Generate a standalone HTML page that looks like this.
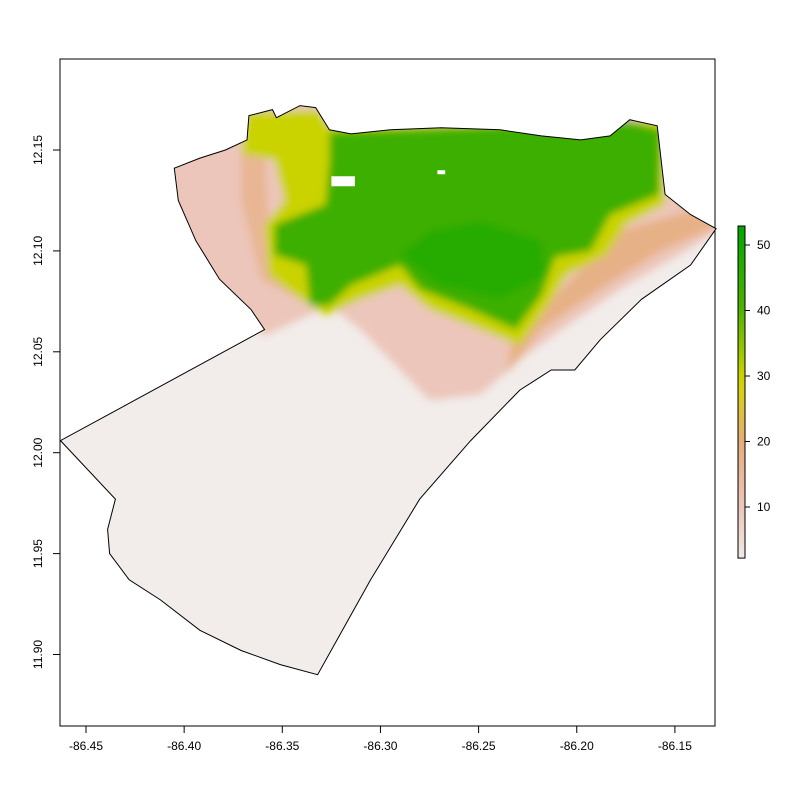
<!DOCTYPE html>
<html><head><meta charset="utf-8"><style>
html,body{margin:0;padding:0;background:#fff;}
svg{display:block;font-family:"Liberation Sans",Arial,sans-serif;font-size:12px;}
</style></head><body>
<svg id="chart" width="800" height="800" viewBox="0 0 800 800" xmlns="http://www.w3.org/2000/svg">
<defs>
<filter id="soft" x="-10%" y="-10%" width="120%" height="120%"><feGaussianBlur stdDeviation="4"/></filter>
<clipPath id="bclip"><path id="clipPath"/></clipPath>
<linearGradient id="lgrad" x1="0" y1="1" x2="0" y2="0"></linearGradient>
</defs>
<rect x="60" y="59" width="655" height="667" fill="none" stroke="#000" stroke-width="1"/>
<g id="zones" clip-path="url(#bclip)"></g>
<path id="boundary" fill="none" stroke="#000" stroke-width="1"/>
<g id="axes"></g>
<g id="legend"></g>
</svg>
<script>
const xTicks=[-86.45,-86.40,-86.35,-86.30,-86.25,-86.20,-86.15];
const yTicks=[11.90,11.95,12.00,12.05,12.10,12.15];
const legendTicks=[10,20,30,40,50];
const legendRange=[2.2,52.9];
const boundaryLon=[-86.463,-86.435,-86.439,-86.438,-86.428,-86.412,-86.392,-86.371,-86.351,-86.332,-86.305,-86.280,-86.254,-86.229,-86.213,-86.201,-86.188,-86.167,-86.142,-86.129,-86.142,-86.155,-86.159,-86.173,-86.183,-86.198,-86.218,-86.239,-86.269,-86.295,-86.315,-86.326,-86.333,-86.341,-86.353,-86.355,-86.367,-86.368,-86.379,-86.392,-86.405,-86.403,-86.394,-86.382,-86.366,-86.359];
const boundaryLat=[12.006,11.977,11.962,11.950,11.937,11.927,11.912,11.902,11.895,11.890,11.937,11.977,12.006,12.031,12.041,12.041,12.056,12.076,12.093,12.111,12.118,12.128,12.162,12.165,12.157,12.155,12.157,12.160,12.161,12.160,12.158,12.160,12.171,12.172,12.166,12.170,12.167,12.155,12.150,12.146,12.141,12.125,12.105,12.086,12.071,12.061];
const zoneValues=[10,16,18,30,43,47,1,1];
const zoneLon=[
[-86.407,-86.407,-86.359,-86.326,-86.310,-86.290,-86.275,-86.249,-86.229,-86.208,-86.178,-86.127,-86.127],
[-86.371,-86.359,-86.356,-86.341,-86.331,-86.361,-86.371],
[-86.236,-86.218,-86.188,-86.157,-86.127,-86.142,-86.178,-86.208,-86.233],
[-86.369,-86.331,-86.326,-86.155,-86.155,-86.175,-86.185,-86.205,-86.216,-86.229,-86.254,-86.275,-86.290,-86.310,-86.328,-86.341,-86.357,-86.359,-86.349,-86.354,-86.371],
[-86.326,-86.173,-86.157,-86.158,-86.183,-86.193,-86.211,-86.218,-86.231,-86.254,-86.280,-86.290,-86.315,-86.326,-86.336,-86.338,-86.354,-86.354,-86.341,-86.328,-86.326],
[-86.290,-86.275,-86.249,-86.218,-86.216,-86.239,-86.270],
[-86.325,-86.313,-86.313,-86.325],
[-86.271,-86.267,-86.267,-86.271]];
const zoneLat=[
[12.175,12.100,12.058,12.073,12.061,12.041,12.026,12.029,12.046,12.061,12.081,12.110,12.175],
[12.150,12.150,12.100,12.076,12.071,12.086,12.125],
[12.039,12.061,12.081,12.100,12.113,12.120,12.110,12.081,12.056],
[12.169,12.170,12.162,12.165,12.123,12.113,12.098,12.088,12.071,12.053,12.063,12.071,12.083,12.076,12.068,12.076,12.088,12.113,12.125,12.145,12.148],
[12.159,12.164,12.160,12.128,12.118,12.100,12.097,12.078,12.061,12.071,12.081,12.093,12.083,12.073,12.073,12.093,12.098,12.113,12.118,12.123,12.145],
[12.098,12.110,12.115,12.105,12.088,12.076,12.083],
[12.137,12.137,12.132,12.132],
[12.140,12.140,12.138,12.138]];
const stops=[[0,[242,242,242]],[10,[236,198,186]],[20,[230,172,122]],[29,[214,214,0]],[40,[80,178,0]],[53,[0,166,0]]];
function col(v){for(let i=1;i<stops.length;i++){if(v<=stops[i][0]){const a=stops[i-1],b=stops[i];const t=(v-a[0])/(b[0]-a[0]);const c=a[1].map((x,k)=>Math.round(x+(b[1][k]-x)*t));return `rgb(${c})`;}}return 'rgb(0,166,0)';}
function X(lon){return 86+(lon+86.45)/0.05*98.15;}
function Y(lat){return 150+(12.15-lat)/0.05*100.9;}
function LY(v){return 572.5-v*6.55;}
const NS='http://www.w3.org/2000/svg';
function pathOf(lons,lats){return lons.map((l,i)=>(i?'L':'M')+X(l).toFixed(1)+','+Y(lats[i]).toFixed(1)).join('')+'Z';}
const bp=pathOf(boundaryLon,boundaryLat);
document.getElementById('boundary').setAttribute('d',bp);
document.getElementById('clipPath').setAttribute('d',bp);
const zg=document.getElementById('zones');
const base=document.createElementNS(NS,'path');
base.setAttribute('d',bp);base.setAttribute('fill','rgb(242,236,234)');


zg.appendChild(base);
const blurG=document.createElementNS(NS,'g');blurG.setAttribute('filter','url(#soft)');zg.appendChild(blurG);
zoneValues.forEach((v,i)=>{const p=document.createElementNS(NS,'path');
p.setAttribute('d',pathOf(zoneLon[i],zoneLat[i]));
p.setAttribute('fill',i>=6?'#fff':col(v));


(i>=6?zg:blurG).appendChild(p);});
const ax=document.getElementById('axes');
function line(x1,y1,x2,y2,name){const l=document.createElementNS(NS,'line');l.setAttribute('x1',x1);l.setAttribute('y1',y1);l.setAttribute('x2',x2);l.setAttribute('y2',y2);l.setAttribute('stroke','#000');


ax.appendChild(l);return l;}
function text(x,y,s,anchor,rot,name,parent){const t=document.createElementNS(NS,'text');t.setAttribute('x',x);t.setAttribute('y',y);t.setAttribute('text-anchor',anchor);if(rot)t.setAttribute('transform',`rotate(-90 ${x} ${y})`);t.textContent=s;


(parent||ax).appendChild(t);}
line(X(xTicks[0]),726,X(xTicks[xTicks.length-1]),726,'x-axis-line');
xTicks.forEach(v=>{line(X(v),726,X(v),733,'x-tick');text(X(v),750,v.toFixed(2),'middle',false,'x-tick-label');});
line(60,Y(yTicks[0]),60,Y(yTicks[yTicks.length-1]),'y-axis-line');
yTicks.forEach(v=>{line(53,Y(v),60,Y(v),'y-tick');text(42,Y(v),v.toFixed(2),'middle',true,'y-tick-label');});
const lg=document.getElementById('legend');
const grad=document.getElementById('lgrad');
for(let k=0;k<=20;k++){const v=legendRange[0]+(legendRange[1]-legendRange[0])*k/20;const s=document.createElementNS(NS,'stop');s.setAttribute('offset',(k/20));s.setAttribute('stop-color',col(v));grad.appendChild(s);}
const r=document.createElementNS(NS,'rect');r.setAttribute('x',738);r.setAttribute('y',LY(legendRange[1]));r.setAttribute('width',7);r.setAttribute('height',LY(legendRange[0])-LY(legendRange[1]));r.setAttribute('fill','url(#lgrad)');r.setAttribute('stroke','#000');


lg.appendChild(r);
legendTicks.forEach(v=>{const l=document.createElementNS(NS,'line');l.setAttribute('x1',745);l.setAttribute('x2',750);l.setAttribute('y1',LY(v));l.setAttribute('y2',LY(v));l.setAttribute('stroke','#000');


lg.appendChild(l);text(757,LY(v)+4,String(v),'start',false,'legend-tick-label',lg);});
</script>
</body></html>
